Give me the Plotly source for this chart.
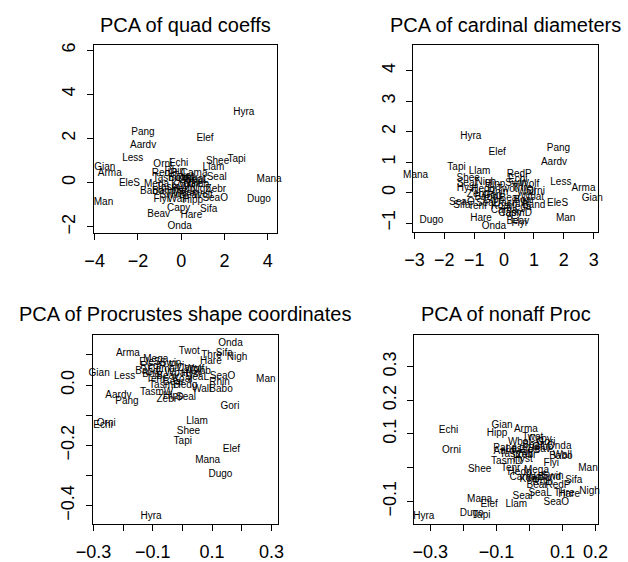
import plotly.graph_objects as go

names = ["Hyra","Pang","Aardv","Elef","Less","Shee","Tapi","Llam","Gian","Arma",
         "Seal","Mana","EleS","Man","Dugo","SeaO","Sifa","Capy","Hare","Beav",
         "Onda","Echi","Orni","RedP","Hipp","Twot","Thre","Nigh","Babo","Gori",
         "Zebr","TasmW","TasmD","Wall","Mega","Flyi","Hyst","Tenr","SeaL","Bear",
         "Band","Koal","Wolf","Rhin","Cama","Swin","Hedg","Boar","Gibb","Wbat"]

# PCA of quad coeffs
quad_x = [2.89,-1.77,-1.76,1.10,-2.24,1.68,2.56,1.49,-3.53,-3.30,
          1.64,4.06,-2.39,-3.59,3.59,1.57,1.27,-0.12,0.47,-1.04,
          -0.07,-0.12,-0.85,-0.78,0.54,0.1,0.5,0.9,-1.36,0.3,
          1.60,-0.4,-0.6,-0.19,-1.14,-0.92,-0.2,0.2,0.7,0.4,
          -0.8,0.0,1.0,-0.3,0.6,-0.5,0.1,-0.1,0.8,0.62]
quad_y = [3.17,2.25,1.69,2.01,1.10,0.98,1.05,0.68,0.68,0.43,
          0.25,0.13,-0.02,-0.90,-0.76,-0.70,-1.23,-1.16,-1.50,-1.42,
          -1.99,0.87,0.84,0.43,-0.79,0.3,-0.1,-0.3,-0.39,0.1,
          -0.31,-0.2,0.2,-0.76,-0.09,-0.76,-0.4,-0.5,0.1,-0.6,
          -0.4,-0.1,-0.6,0.5,0.4,-0.6,-0.3,0.2,-0.1,0.16]

# PCA of cardinal diameters
card_x = [-1.11,1.82,1.67,-0.23,1.90,-1.20,-1.59,-0.82,2.95,2.66,
          -1.25,-2.96,1.79,2.06,-2.43,-1.41,-1.41,0.2,-0.77,0.46,
          -0.34,0.46,1.05,0.51,-0.3,0.1,0.6,-0.61,-0.6,-0.4,
          -0.9,0.3,0.41,0.75,0.5,0.51,-1.25,-0.88,-0.55,0.2,
          0.99,-0.1,0.85,-0.2,0.0,0.4,-0.7,0.67,-0.35,0.95]
card_y = [1.84,1.46,0.98,1.33,0.33,0.47,0.82,0.68,-0.20,0.13,
          0.31,0.55,-0.35,-0.84,-0.93,-0.33,-0.44,-0.7,-0.84,-0.96,
          -1.12,0.42,0.04,0.61,0.25,0.1,0.15,0.33,-0.15,-0.1,
          -0.05,-0.35,-0.69,0.0,-0.5,-1.03,0.12,-0.47,-0.35,-0.2,
          -0.44,-0.45,0.25,0.0,-0.6,0.3,0.1,-0.26,-0.25,-0.15]

# PCA of Procrustes shape coordinates
proc_x = [-0.106,-0.187,-0.216,0.165,-0.195,0.020,0.001,0.049,-0.281,-0.184,
          0.012,0.085,-0.11,0.281,0.128,0.135,0.141,0.02,0.096,-0.05,
          0.162,-0.268,-0.257,-0.10,-0.031,0.023,0.098,0.184,0.130,0.160,
          -0.053,-0.087,-0.06,0.065,-0.090,-0.02,0.03,-0.09,0.05,-0.03,
          -0.12,0.0,0.04,0.125,-0.07,-0.04,0.01,-0.10,0.06,-0.02]
proc_y = [-0.436,-0.055,-0.036,-0.215,0.029,-0.155,-0.186,-0.121,0.040,0.105,
          -0.041,-0.250,0.075,0.018,-0.296,0.027,0.105,0.055,0.078,0.03,
          0.138,-0.134,-0.126,0.06,-0.038,0.111,0.097,0.091,-0.014,-0.071,
          -0.049,-0.023,0.00,-0.014,0.086,0.06,0.035,0.02,0.025,0.01,
          0.045,0.02,0.05,0.007,0.05,0.07,0.00,0.035,0.045,0.04]

# PCA of nonaff Proc
nonaff_x = [-0.320,-0.074,-0.069,-0.122,-0.04,-0.151,-0.146,-0.040,-0.083,-0.011,
            -0.021,-0.151,0.00,0.177,-0.175,0.081,0.134,0.032,0.12,0.03,
            0.090,-0.245,-0.236,0.086,-0.098,0.01,0.105,0.182,0.095,0.05,
            -0.01,-0.04,-0.069,0.10,0.021,0.066,-0.02,-0.057,0.032,0.023,
            0.06,0.0,0.02,0.04,-0.02,0.07,-0.03,0.01,0.04,-0.03]
nonaff_y = [-0.146,0.057,0.048,-0.108,0.055,-0.006,-0.143,-0.108,0.125,0.113,
            -0.087,-0.096,0.05,-0.001,-0.137,-0.103,-0.038,0.085,-0.08,0.055,
            0.064,0.111,0.052,-0.052,0.101,0.09,-0.077,-0.072,0.033,0.075,
            0.035,0.04,0.018,0.035,-0.008,0.012,0.025,-0.003,-0.077,-0.052,
            -0.03,-0.035,-0.03,-0.045,-0.03,-0.025,-0.015,0.065,0.06,0.075]

titles = ["PCA of quad coeffs", "PCA of cardinal diameters",
          "PCA of Procrustes shape coordinates", "PCA of nonaff Proc"]

W, H = 628, 562
FONT = "Liberation Sans, Arial, sans-serif"

panels = [
    dict(x=quad_x, y=quad_y, box=(80, 272, 43, 234), xr=[-4.05, 4.44], yr=[-2.27, 6.22],
         xt=[-4, -2, 0, 2, 4], xl=["−4", "−2", "0", "2", "4"],
         yt=[-2, 0, 2, 4, 6], yl=["−2", "0", "2", "4", "6"]),
    dict(x=card_x, y=card_y, box=(414, 607, 43, 233), xr=[-3.04, 3.14], yr=[-1.29, 4.84],
         xt=[-3, -2, -1, 0, 1, 2, 3], xl=["−3", "−2", "−1", "0", "1", "2", "3"],
         yt=[-1, 0, 1, 2, 3, 4], yl=["−1", "0", "1", "2", "3", "4"]),
    dict(x=proc_x, y=proc_y, box=(79, 273, 338, 530), xr=[-0.303, 0.323], yr=[-0.459, 0.166],
         xt=[-0.3, -0.2, -0.1, 0.0, 0.1, 0.2, 0.3], xl=["−0.3", "", "−0.1", "", "0.1", "", "0.3"],
         yt=[-0.4, -0.3, -0.2, -0.1, 0.0, 0.1], yl=["−0.4", "", "−0.2", "", "0.0", ""]),
    dict(x=nonaff_x, y=nonaff_y, box=(415, 607, 338, 530), xr=[-0.349, 0.207], yr=[-0.166, 0.394],
         xt=[-0.3, -0.2, -0.1, 0.0, 0.1, 0.2], xl=["−0.3", "", "−0.1", "", "0.1", "0.2"],
         yt=[-0.1, 0.0, 0.1, 0.2, 0.3], yl=["−0.1", "", "0.1", "0.2", "0.3"]),
]

fig = go.Figure()
layout = dict(width=W, height=H, margin=dict(l=0, r=0, t=0, b=0),
              paper_bgcolor="white", plot_bgcolor="white", showlegend=False,
              font=dict(family=FONT, color="black"))
annotations = []
for i, p in enumerate(panels):
    k = "" if i == 0 else str(i + 1)
    fig.add_trace(go.Scatter(x=p["x"], y=p["y"], text=names, mode="text",
                             textposition="middle center",
                             textfont=dict(family=FONT, size=10, color="black"),
                             cliponaxis=False, hoverinfo="text",
                             xaxis="x" + k, yaxis="y" + k))
    l, r, t, b = p["box"]
    axis_common = dict(showgrid=False, zeroline=False, showline=True, linecolor="black",
                       linewidth=1, mirror=True, ticks="outside", ticklen=6,
                       tickcolor="black", tickwidth=1,
                       tickfont=dict(family=FONT, size=18, color="black"))
    layout["xaxis" + k] = dict(axis_common, domain=[l / W, r / W], range=p["xr"],
                               anchor="y" + k, tickmode="array", tickvals=p["xt"],
                               ticktext=p["xl"], ticklabelstandoff=6)
    layout["yaxis" + k] = dict(axis_common, domain=[1 - b / H, 1 - t / H], range=p["yr"],
                               anchor="x" + k, tickmode="array", tickvals=p["yt"],
                               ticktext=p["yl"], tickangle=-90, ticklabelstandoff=4)
    annotations.append(dict(text=titles[i], x=(l + r) / 2 / W, y=1 - (t - 21) / H,
                            xref="paper", yref="paper", showarrow=False,
                            xanchor="center", yanchor="middle",
                            font=dict(family=FONT, size=20, color="black")))
layout["annotations"] = annotations
fig.update_layout(**layout)
fig.write_html("out.html")
